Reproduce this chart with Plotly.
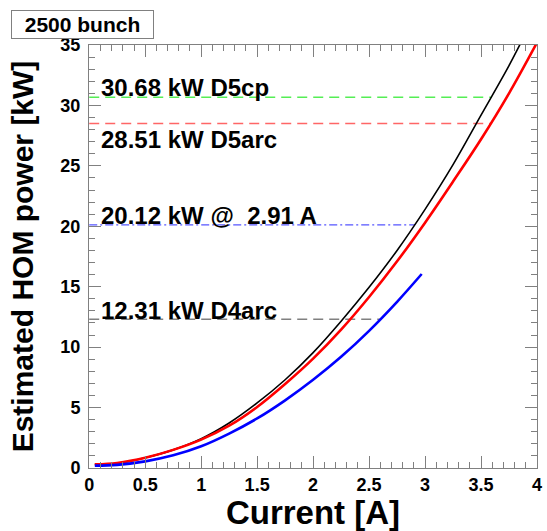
import plotly.graph_objects as go

# ---- data ----
black_x = [0.05, 0.25, 0.5, 0.75, 1.0, 1.25, 1.5, 1.75, 2.0, 2.25, 2.5, 2.75, 3.0, 3.25, 3.5, 3.75, 3.9]
black_y = [0.30, 0.40, 0.85, 1.50, 2.42, 3.72, 5.38, 7.3, 9.55, 12.15, 14.95, 18.0, 21.4, 25.1, 29.2, 33.3, 36.0]

red_x = [0.05, 0.25, 0.5, 0.75, 1.0, 1.25, 1.5, 1.75, 2.0, 2.25, 2.5, 2.75, 3.0, 3.25, 3.5, 3.75, 4.0]
red_y = [0.30, 0.42, 0.85, 1.5, 2.35, 3.5, 5.05, 6.95, 9.05, 11.45, 14.15, 17.1, 20.3, 23.7, 27.2, 31.0, 35.2]

blue_x = [0.05, 0.25, 0.5, 0.75, 1.0, 1.25, 1.5, 1.75, 2.0, 2.25, 2.5, 2.75, 2.97]
blue_y = [0.20, 0.26, 0.55, 1.05, 1.8, 2.85, 4.1, 5.6, 7.3, 9.2, 11.35, 13.75, 16.05]

ref_levels = [30.68, 28.51, 20.12, 12.31]
ref_ends = [3.594, 3.59, 2.91, 2.60]
ref_labels = ["30.68 kW D5cp", "28.51 kW D5arc", "20.12 kW @  2.91 A", "12.31 kW D4arc"]
ref_colors = ["#55ee55", "#ff6666", "#5555ff", "#808080"]
ref_dashes = ["10px,6px", "10px,6px", "8px,3px,2px,3px", "10px,6px"]
label_shift = [9.5, -16, 9, 8.5]

x_tickvals = [0, 0.5, 1, 1.5, 2, 2.5, 3, 3.5, 4]
x_ticktext = ["0", "0.5", "1", "1.5", "2", "2.5", "3", "3.5", "4"]

title_text = "2500 bunch"
x_title = "Current [A]"
y_title = "Estimated HOM power [kW]"

FONT = "Liberation Sans, Arial, sans-serif"

fig = go.Figure()

for lvl, end, col, dash in zip(ref_levels, ref_ends, ref_colors, ref_dashes):
    fig.add_trace(go.Scatter(x=[0, end], y=[lvl, lvl], mode="lines",
                             line=dict(color=col, width=1.4, dash=dash),
                             showlegend=False, hoverinfo="skip"))

fig.add_trace(go.Scatter(x=black_x, y=black_y, mode="lines", line=dict(color="black", width=1.6, shape="spline"), showlegend=False))
fig.add_trace(go.Scatter(x=red_x, y=red_y, mode="lines", line=dict(color="#ff0000", width=2.6, shape="spline"), showlegend=False))
fig.add_trace(go.Scatter(x=blue_x, y=blue_y, mode="lines", line=dict(color="#0000ff", width=2.6, shape="spline"), showlegend=False))

annotations = []
for lvl, txt, sh in zip(ref_levels, ref_labels, label_shift):
    annotations.append(dict(x=0.088, y=lvl, xref="x", yref="y", text=txt, showarrow=False,
                            xanchor="left", yanchor="middle", yshift=sh,
                            font=dict(family=FONT, size=24, color="black", weight="bold")))

annotations.append(dict(x=(10 - 89) / 453, y=1 + (45 - 10) / 424, xref="paper", yref="paper",
                        text=title_text, showarrow=False, xanchor="left", yanchor="top",
                        width=141, height=27, borderpad=0, borderwidth=1, bordercolor="#808080",
                        bgcolor="white", font=dict(family=FONT, size=21, color="black", weight="bold")))

fig.update_layout(
    width=547, height=531,
    margin=dict(l=89, r=5, t=45, b=62),
    paper_bgcolor="white", plot_bgcolor="white",
    annotations=annotations,
    font=dict(family=FONT, color="black"),
)

axis_common = dict(showline=True, linecolor="#808080", linewidth=1, mirror="allticks",
                   ticks="inside", tickcolor="#808080", tickwidth=1, ticklen=12,
                   showgrid=False, zeroline=False, ticklabeloverflow="allow",
                   tickfont=dict(family=FONT, size=18, color="black", weight="bold"))

fig.update_xaxes(range=[-0.002, 4], tickmode="array", tickvals=x_tickvals, ticktext=x_ticktext,
                 minor=dict(tick0=0, dtick=0.1, ticks="inside", ticklen=6, tickcolor="#808080", showgrid=False),
                 title=dict(text=x_title, standoff=8, font=dict(family=FONT, size=33, color="black", weight="bold")),
                 **axis_common)
fig.update_yaxes(range=[0, 35], dtick=5, tick0=0, ticklabelstandoff=4,
                 minor=dict(dtick=1, ticks="inside", ticklen=6, tickcolor="#808080", showgrid=False),
                 title=dict(text=y_title, standoff=17, font=dict(family=FONT, size=30, color="black", weight="bold")),
                 **axis_common)

fig.write_html("out.html")
